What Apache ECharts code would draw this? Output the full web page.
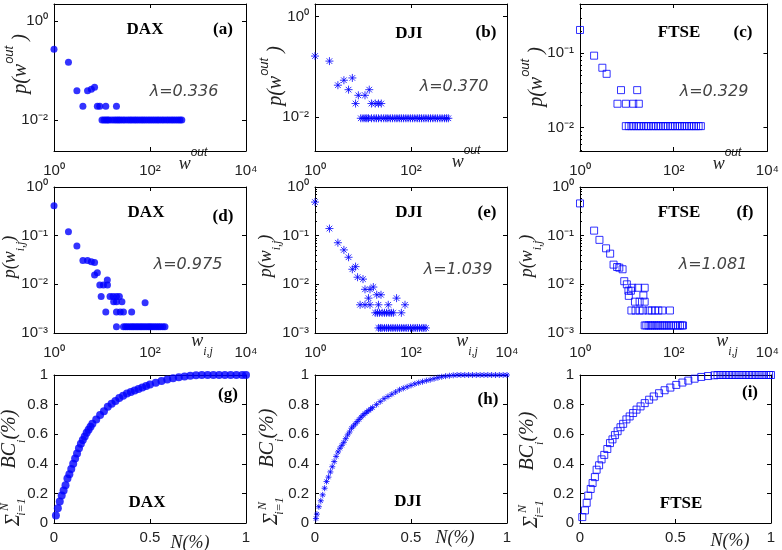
<!DOCTYPE html>
<html><head><meta charset="utf-8">
<script src="https://cdn.jsdelivr.net/npm/echarts@6/dist/echarts.min.js"></script>
<style>html,body{margin:0;padding:0;background:#fff}#c{width:782px;height:550px}</style>
</head><body><div id="c"></div>
<script>
// ---------- DATA ----------
// row 1: out-strength distributions  [w_out, p(w_out)]
const daxOut = [[1,0.27],[2,0.147],[3,0.039],[4,0.019],[5,0.039],[6,0.042],[7,0.046],[8,0.019],[9,0.019],[12,0.019],[20,0.019],
 [10,0.01],[11,0.01],[12,0.01],[13,0.01],[14,0.01],[16,0.01],[18,0.01],[20,0.01],[22,0.01],[24,0.01],[27,0.01],[30,0.01],[34,0.01],[38,0.01],[42,0.01],[47,0.01],[52,0.01],[58,0.01],[65,0.01],[72,0.01],[80,0.01],[90,0.01],[100,0.01],[112,0.01],[125,0.01],[140,0.01],[155,0.01],[175,0.01],[195,0.01],[220,0.01],[245,0.01],[275,0.01],[305,0.01],[340,0.01],[380,0.01],[420,0.01],[460,0.01]];
const djiOut = [[1,0.164],[2,0.13],[3,0.043],[4,0.054],[5,0.035],[6,0.06],[7,0.0185],[8,0.027],[11,0.027],[13.5,0.035],[15,0.0185],[18,0.0185],[21,0.0185],[24,0.0185],
 [9,0.0094],[10,0.0094],[11,0.0094],[12,0.0094],[13,0.0094],[15,0.0094],[17,0.0094],[19,0.0094],[21,0.0094],[24,0.0094],[27,0.0094],[30,0.0094],[33,0.0094],[37,0.0094],[41,0.0094],[46,0.0094],[51,0.0094],[57,0.0094],[63,0.0094],[70,0.0094],[78,0.0094],[87,0.0094],[97,0.0094],[108,0.0094],[120,0.0094],[135,0.0094],[150,0.0094],[165,0.0094],[185,0.0094],[205,0.0094],[230,0.0094],[255,0.0094],[285,0.0094],[320,0.0094],[355,0.0094],[400,0.0094],[445,0.0094],[500,0.0094],[550,0.0094],[600,0.0094]];
const ftseOut = [[1,0.206],[2,0.093],[3,0.064],[3.7,0.053],[7.5,0.032],[16.6,0.032],[6.3,0.021],[9.5,0.021],[13.7,0.021],[18,0.021],
 [9.5,0.0105],[11,0.0105],[12.5,0.0105],[14,0.0105],[16,0.0105],[18,0.0105],[20,0.0105],[23,0.0105],[26,0.0105],[29,0.0105],[33,0.0105],[37,0.0105],[42,0.0105],[47,0.0105],[53,0.0105],[60,0.0105],[67,0.0105],[75,0.0105],[85,0.0105],[95,0.0105],[107,0.0105],[120,0.0105],[135,0.0105],[150,0.0105],[170,0.0105],[190,0.0105],[215,0.0105],[240,0.0105],[270,0.0105],[300,0.0105],[340,0.0105],[380,0.0105]];
// row 2: edge-weight distributions [w_ij, p(w_ij)]
const daxW = [[1,0.41],[2,0.12],[3,0.061],[4,0.031],[5,0.031],[6,0.029],[7,0.028],[7,0.0156],[8,0.0173],[9,0.0097],[10.7,0.0097],[9.6,0.0056],[12,0.0027],[12.9,0.0123],[13,0.0097],[14.7,0.0056],[17,0.0056],[20,0.0056],[23,0.0056],[17.5,0.0044],[20,0.0044],[26,0.0044],[20,0.0027],[24,0.0027],[28,0.0027],[41.5,0.0027],[79,0.0042],[20,0.00135],
 [28,0.00135],[31,0.00135],[34,0.00135],[38,0.00135],[42,0.00135],[46,0.00135],[51,0.00135],[56,0.00135],[62,0.00135],[68,0.00135],[75,0.00135],[83,0.00135],[92,0.00135],[100,0.00135],[110,0.00135],[122,0.00135],[135,0.00135],[150,0.00135],[165,0.00135],[185,0.00135],[205,0.00135]];
const djiW = [[1,0.49],[2,0.14],[3,0.0716],[4,0.051],[5,0.036],[6,0.0204],[7,0.0231],[7.7,0.014],[10,0.0128],[11,0.0079],[14,0.0079],[16.4,0.0088],[13,0.0052],[19.3,0.0061],[23.7,0.0061],[50,0.0052],[8.7,0.0038],[11,0.0038],[14,0.0038],[21,0.0038],[33.6,0.0038],[75,0.0038],[18,0.0026],[20,0.0026],[22,0.0026],[25,0.0026],[28,0.0026],[31,0.0026],[35,0.0026],[39,0.0026],[43,0.0026],[63,0.0026],
 [21,0.00127],[23,0.00127],[25,0.00127],[28,0.00127],[31,0.00127],[34,0.00127],[38,0.00127],[42,0.00127],[47,0.00127],[52,0.00127],[58,0.00127],[64,0.00127],[71,0.00127],[79,0.00127],[88,0.00127],[98,0.00127],[110,0.00127],[122,0.00127],[136,0.00127],[150,0.00127],[168,0.00127],[185,0.00127],[205,0.00127]];
const ftseW = [[1,0.46],[2,0.127],[2.6,0.082],[3.6,0.055],[4.4,0.0427],[5.2,0.0254],[6.2,0.0227],[6.9,0.022],[8.1,0.0204],[8.8,0.0116],[10,0.01],[10.8,0.0074],[11,0.0058],[12.2,0.0074],[13,0.0085],[17.4,0.0085],[24,0.0085],[22.5,0.0059],[14.9,0.0044],[18.7,0.0044],[24,0.0044],[12.5,0.0029],[15.3,0.0029],[18.7,0.0029],[22,0.0029],[29,0.0029],[34,0.0029],[40,0.0029],[47,0.0029],[57,0.0029],[83,0.0029],
 [24,0.00143],[26,0.00143],[29,0.00143],[32,0.00143],[35,0.00143],[39,0.00143],[43,0.00143],[47,0.00143],[52,0.00143],[58,0.00143],[64,0.00143],[71,0.00143],[79,0.00143],[88,0.00143],[98,0.00143],[110,0.00143],[122,0.00143],[136,0.00143],[150,0.00143],[158,0.00143]];
// row 3: cumulative betweenness
const daxCumN  = [0.01,0.02,0.03,0.04,0.05,0.06,0.07,0.08,0.09,0.10,0.11,0.12,0.13,0.14,0.15,0.16,0.17,0.18,0.19,0.20,0.22,0.24,0.26,0.28,0.30,0.32,0.34,0.36,0.38,0.40,0.42,0.44,0.46,0.48,0.50,0.53,0.56,0.59,0.62,0.65,0.68,0.71,0.74,0.77,0.80,0.83,0.86,0.89,0.92,0.95,0.98,1.0];
const daxCumBC = [0.05,0.10,0.145,0.185,0.22,0.255,0.30,0.33,0.365,0.40,0.435,0.47,0.505,0.535,0.56,0.585,0.61,0.63,0.65,0.67,0.70,0.73,0.755,0.785,0.805,0.825,0.845,0.86,0.875,0.885,0.895,0.905,0.915,0.925,0.935,0.948,0.96,0.97,0.978,0.985,0.99,0.995,0.998,1,1,1,1,1,1,1,1,1];
const djiCumN  = [0.005,0.01,0.02,0.03,0.04,0.05,0.06,0.07,0.08,0.09,0.10,0.11,0.12,0.13,0.14,0.15,0.16,0.17,0.18,0.19,0.20,0.21,0.22,0.23,0.24,0.25,0.26,0.27,0.28,0.29,0.30,0.32,0.34,0.36,0.38,0.40,0.42,0.44,0.46,0.48,0.50,0.52,0.54,0.56,0.58,0.60,0.62,0.64,0.66,0.68,0.70,0.72,0.74,0.76,0.78,0.80,0.82,0.84,0.86,0.88,0.90,0.92,0.94,0.96,0.98,1.0];
const djiCumBC = [0.03,0.06,0.11,0.15,0.19,0.235,0.28,0.31,0.345,0.38,0.415,0.45,0.48,0.505,0.525,0.545,0.57,0.595,0.615,0.64,0.655,0.67,0.685,0.70,0.715,0.728,0.74,0.75,0.76,0.77,0.78,0.80,0.82,0.84,0.855,0.87,0.885,0.90,0.91,0.92,0.93,0.94,0.948,0.955,0.962,0.968,0.975,0.982,0.988,0.992,0.995,0.998,1,1,1,1,1,1,1,1,1,1,1,1,1,1];
const ftseCumN  = [0.012,0.026,0.035,0.043,0.056,0.066,0.078,0.087,0.10,0.113,0.127,0.143,0.157,0.17,0.183,0.197,0.212,0.226,0.243,0.26,0.278,0.296,0.317,0.339,0.362,0.386,0.414,0.443,0.473,0.504,0.536,0.567,0.60,0.635,0.67,0.704,0.72,0.735,0.75,0.765,0.78,0.795,0.81,0.825,0.84,0.855,0.87,0.885,0.90,0.915,0.93,0.945,0.96,0.975,0.99,1.0];
const ftseCumBC = [0.04,0.085,0.136,0.185,0.23,0.27,0.31,0.36,0.39,0.43,0.46,0.50,0.54,0.565,0.594,0.62,0.647,0.67,0.70,0.72,0.743,0.766,0.788,0.81,0.833,0.855,0.877,0.897,0.915,0.933,0.949,0.962,0.975,0.987,0.993,0.998,1,1,1,1,1,1,1,1,1,1,1,1,1,1,1,1,1,1,1,1];
// tick values
const logXTicks = [1, 100, 10000];
const logYTicksTwoDec = [0.01, 1];
const logYTicksC = [0.01, 0.1];
const logYTicksRow2 = [0.001, 0.01, 0.1, 1];
const minorYTicksC = [0.005,0.006,0.007,0.008,0.009,0.02,0.03,0.04,0.05,0.06,0.07,0.08,0.09,0.2,0.3,0.4];
const minorYTicksRow2 = [0.002,0.003,0.004,0.005,0.006,0.007,0.008,0.009,0.02,0.03,0.04,0.05,0.06,0.07,0.08,0.09,0.2,0.3,0.4,0.5,0.6,0.7,0.8,0.9];
const lambdas = ['λ=0.336','λ=0.370','λ=0.329','λ=0.975','λ=1.039','λ=1.081'];
const indexNames = ['DAX','DJI','FTSE'];
const panelTags = ['(a)','(b)','(c)','(d)','(e)','(f)','(g)','(h)','(i)'];

// ---------- LAYOUT ----------
const COLS = [54, 315, 580], WIDTHS = [192, 192, 191];
const ROWS = [4, 187, 375], HEIGHTS = [147, 146, 148];
const BLUE = '#0000ff', TXT = '#222';
const P = Math.pow;

const marks = {
  dot:  {symbol:'circle', symbolSize:7, itemStyle:{color:BLUE}},
  star: {symbol:'path://M5,0L5,10M0,5L10,5M1.5,1.5L8.5,8.5M1.5,8.5L8.5,1.5', symbolSize:8, itemStyle:{color:'transparent', borderColor:BLUE, borderWidth:1}},
  sq:   {symbol:'rect', symbolSize:7, itemStyle:{color:'transparent', borderColor:BLUE, borderWidth:1}}
};
const zip = (a, b) => a.map((v, i) => [v, b[i]]);

const panels = [
  {r:0,c:0,data:daxOut, mark:'dot', log:true, yMin:P(10,-2.626), yMax:P(10,0.343), yTicks:logYTicksTwoDec, xLab:logXTicks},
  {r:0,c:1,data:djiOut, mark:'star',log:true, yMin:P(10,-2.68),  yMax:P(10,0.254), yTicks:logYTicksTwoDec, xLab:[1,100]},
  {r:0,c:2,data:ftseOut,mark:'sq',  log:true, yMin:P(10,-2.313), yMax:P(10,-0.337),yTicks:logYTicksC, xLab:logXTicks, yMinor:minorYTicksC},
  {r:1,c:0,data:daxW,   mark:'dot', log:true, yMin:0.001, yMax:1, yTicks:logYTicksRow2, xLab:logXTicks},
  {r:1,c:1,data:djiW,   mark:'star',log:true, yMin:0.001, yMax:1, yTicks:logYTicksRow2, xLab:logXTicks, yMinor:minorYTicksRow2},
  {r:1,c:2,data:ftseW,  mark:'sq',  log:true, yMin:0.001, yMax:1, yTicks:logYTicksRow2, xLab:logXTicks, yMinor:minorYTicksRow2},
  {r:2,c:0,data:zip(daxCumN,daxCumBC),  mark:'dot', size:8},
  {r:2,c:1,data:zip(djiCumN,djiCumBC),  mark:'star',size:6},
  {r:2,c:2,data:zip(ftseCumN,ftseCumBC),mark:'sq',  size:7}
];

const SUP = {'0':'⁰','1':'¹','2':'²','3':'³','4':'⁴','-':'⁻'};
const logFmt = v => '10' + String(Math.round(Math.log10(v))).split('').map(ch => SUP[ch]).join('');
const labS = {color:TXT, fontSize:15, fontFamily:'Liberation Sans'};
const lineS = {color:'#000', width:1};

const grids = [], xAxes = [], yAxes = [], series = [];
panels.forEach((p, i) => {
  grids.push({left:COLS[p.c], top:ROWS[p.r], width:WIDTHS[p.c], height:HEIGHTS[p.r]});
  const gi = i;
  const xi = xAxes.length, yi = yAxes.length;
  ['bottom','top'].forEach(pos => {
    const main = pos === 'bottom';
    const ax = {gridIndex:gi, position:pos, axisLine:{show:true,onZero:false,lineStyle:lineS},
      splitLine:{show:false}, axisPointer:{show:false}};
    if (p.log) {
      Object.assign(ax, {type:'log', logBase:10, min:1, max:10000,
        axisTick:{show:true, inside:true, length:4, customValues:logXTicks, lineStyle:lineS},
        axisLabel:Object.assign({show:main, customValues:p.xLab, formatter:logFmt, margin:12}, labS)});
    } else {
      Object.assign(ax, {type:'value', min:0, max:1, interval:0.5,
        axisTick:{show:true, inside:true, length:4, lineStyle:lineS},
        axisLabel:Object.assign({show:main, margin:7}, labS)});
    }
    xAxes.push(ax);
  });
  ['left','right'].forEach(pos => {
    const main = pos === 'left';
    const ax = {gridIndex:gi, position:pos, axisLine:{show:true,onZero:false,lineStyle:lineS},
      splitLine:{show:false}, axisPointer:{show:false}};
    if (p.log) {
      Object.assign(ax, {type:'log', logBase:10, min:p.yMin, max:p.yMax,
        axisTick:{show:true, inside:true, length:4, customValues:p.yTicks, lineStyle:lineS},
        axisLabel:Object.assign({show:main, customValues:p.yTicks, formatter:logFmt, margin:6}, labS)});
    } else {
      Object.assign(ax, {type:'value', min:0, max:1, interval:0.2,
        axisTick:{show:true, inside:true, length:4, lineStyle:lineS},
        axisLabel:Object.assign({show:main, margin:6}, labS)});
    }
    yAxes.push(ax);
  });
  if (p.yMinor) {
    yAxes.push({gridIndex:gi, position:'left', type:'log', logBase:10, min:p.yMin, max:p.yMax,
      axisLine:{show:false, onZero:false}, axisLabel:{show:false}, splitLine:{show:false}, axisPointer:{show:false},
      axisTick:{show:true, inside:true, length:2, customValues:p.yMinor, lineStyle:{color:'#000', width:1}}});
  }
  const m = marks[p.mark];
  series.push({type:'scatter', xAxisIndex:xi, yAxisIndex:yi, data:p.data, silent:true,
    symbol:m.symbol, symbolSize:p.size || m.symbolSize, itemStyle:m.itemStyle});
});

// ---------- TEXT ----------
const g = [];
const serif = '"Liberation Serif", "DejaVu Serif", serif';
function txt(text, x, y, font, fill, rich) {
  return {type:'text', x, y, silent:true, style:{text, font, fill:fill||TXT, align:'center', verticalAlign:'middle',
    textAlign:'center', textVerticalAlign:'middle', rich}};
}
const titlePos = [[145,30],[409,34],[679,33],[146,213],[409,213],[679,213],[147,503],[408,502],[681,504]];
const tagPos = [[223,30],[486,33],[743,33],[223,217],[487,213],[745,213],[228,395],[488,400],[750,393]];
titlePos.forEach((q, i) => g.push(txt(indexNames[i % 3], q[0], q[1], 'bold 17px ' + serif, '#000')));
tagPos.forEach((q, i) => g.push(txt(panelTags[i], q[0], q[1], 'bold 17px ' + serif, '#000')));
const lamPos = [[184,92],[454,87],[714,92],[188,265],[458,270],[713,265]];
lamPos.forEach((q, i) => g.push(txt(lambdas[i], q[0], q[1], 'italic 16px "DejaVu Sans"', '#444')));

const iRich = {
  i:{fontSize:18, fontFamily:'Liberation Serif', fontStyle:'italic', fill:TXT, lineHeight:26, verticalAlign:'bottom'},
  I:{fontSize:20, fontFamily:'Liberation Serif', fontStyle:'italic', fill:TXT, lineHeight:28, verticalAlign:'bottom'},
  s:{fontSize:12, fontFamily:'Liberation Sans', fontStyle:'italic', fill:TXT, lineHeight:12, verticalAlign:'top'},
  S:{fontSize:13, fontFamily:'Liberation Sans', fontStyle:'italic', fill:TXT, lineHeight:13, verticalAlign:'top'},
  d:{fontSize:12, fontFamily:'Liberation Serif', fontStyle:'italic', fill:TXT, lineHeight:12, verticalAlign:'bottom'},
  j:{fontSize:18, fontFamily:'Liberation Serif', fontStyle:'italic', fill:TXT, lineHeight:26, verticalAlign:'top'},
  J:{fontSize:20, fontFamily:'Liberation Serif', fontStyle:'italic', fill:TXT, lineHeight:28, verticalAlign:'top'}
};
// x-axis titles
[[193,160],[466,158],[727,160]].forEach(q => g.push(txt('{i|w}{s|out}', q[0], q[1], '17px serif', TXT, iRich)));
[[202,345],[467,345],[727,345]].forEach(q => g.push(txt('{j|w}{d|i,j}', q[0], q[1], '17px serif', TXT, iRich)));
[[190,539],[455,534],[730,537]].forEach(q => g.push(txt('{i|N(%)}', q[0], q[1], '17px serif', TXT, iRich)));
// y-axis titles (rotated)
function rot(x, y, children) { return {type:'group', x, y, rotation:Math.PI/2, silent:true, children}; }
[[17,64],[272,76],[533,77]].forEach(q => g.push(rot(q[0], q[1], [txt('{I|p(w}{S|out}{I| )}', 0, 0, '17px serif', TXT, iRich)])));
[[14,257],[270,256],[531,256]].forEach(q => g.push(rot(q[0], q[1], [txt('{j|p(w}{d|i,j}{j|)}', 0, 0, '17px serif', TXT, iRich)])));
[[14,463],[272,462],[532,465]].forEach(q => g.push(rot(q[0], q[1], [
  txt('Σ', -57, 0, 'italic 20px ' + serif),
  txt('N', -44, -9, 'italic 12px ' + serif),
  txt('i=1', -44, 8, 'italic 12px ' + serif),
  txt('{J|BC}{d|i}{J|(%)}', 24, 0, '17px serif', TXT, iRich)
])));

const chart = echarts.init(document.getElementById('c'), null, {renderer:'canvas'});
chart.setOption({animation:false, backgroundColor:'#fff', grid:grids, xAxis:xAxes, yAxis:yAxes, series, graphic:g});
</script></body></html>
